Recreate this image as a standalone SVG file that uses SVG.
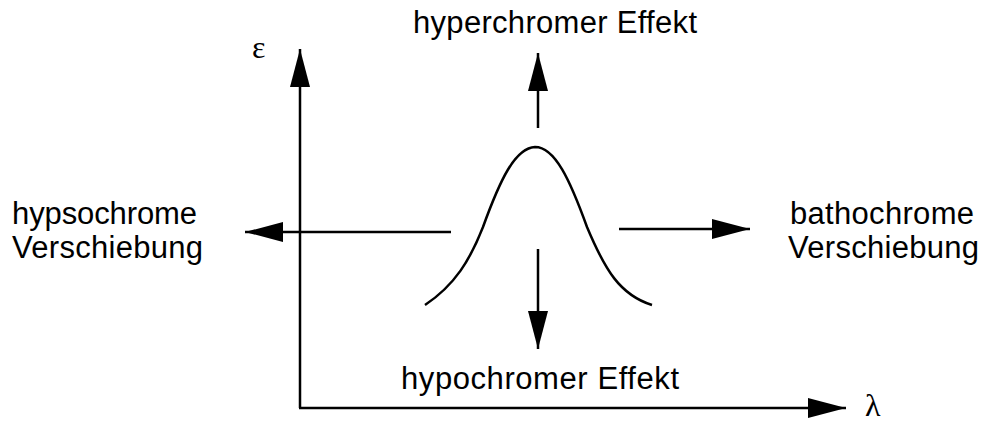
<svg xmlns="http://www.w3.org/2000/svg" width="985" height="425" viewBox="0 0 985 425">
<style>
.ln{stroke:#000;stroke-width:2.5;fill:none}
.t{font-family:"Liberation Sans",Arial,sans-serif;font-size:31px;fill:#000}
.g{font-family:"Liberation Serif","Times New Roman",serif;font-size:32px;fill:#000}
</style>
<defs>
<marker id="ah" viewBox="0 0 38 20" refX="38" refY="10" markerWidth="38" markerHeight="20" markerUnits="userSpaceOnUse" orient="auto">
<path d="M0,0 L38,10 L0,20 Z" fill="#000"/>
</marker>
</defs>
<g id="axes">
<path class="ln" d="M300,408 V49" marker-end="url(#ah)"/>
<path class="ln" d="M299,408 H846" marker-end="url(#ah)"/>
</g>
<g id="curve">
<path class="ln" d="M425,305 C455,285 470,260 483,227 C500,180 515,148 535,147 C555,147 570,180 587,227 C605,270 620,295 652,305"/>
</g>
<g id="connectors">
<path class="ln" d="M538,128 V53" marker-end="url(#ah)"/>
<path class="ln" d="M538,249 V349" marker-end="url(#ah)"/>
<path class="ln" d="M451,232 H245" marker-end="url(#ah)"/>
<path class="ln" d="M619,229 H750" marker-end="url(#ah)"/>
</g>
<g id="label-epsilon"><text class="g" x="252" y="58">ε</text></g>
<g id="label-lambda"><text class="g" x="865" y="416">λ</text></g>
<g id="hyperchromer"><text class="t" x="413" y="33" textLength="284">hyperchromer Effekt</text></g>
<g id="hypochromer"><text class="t" x="401" y="389" textLength="278">hypochromer Effekt</text></g>
<g id="hypsochrome"><text class="t" x="12" y="224" textLength="185">hypsochrome</text><text class="t" x="12" y="258" textLength="191">Verschiebung</text></g>
<g id="bathochrome"><text class="t" x="790" y="224" textLength="184">bathochrome</text><text class="t" x="788" y="258" textLength="191">Verschiebung</text></g>
</svg>
